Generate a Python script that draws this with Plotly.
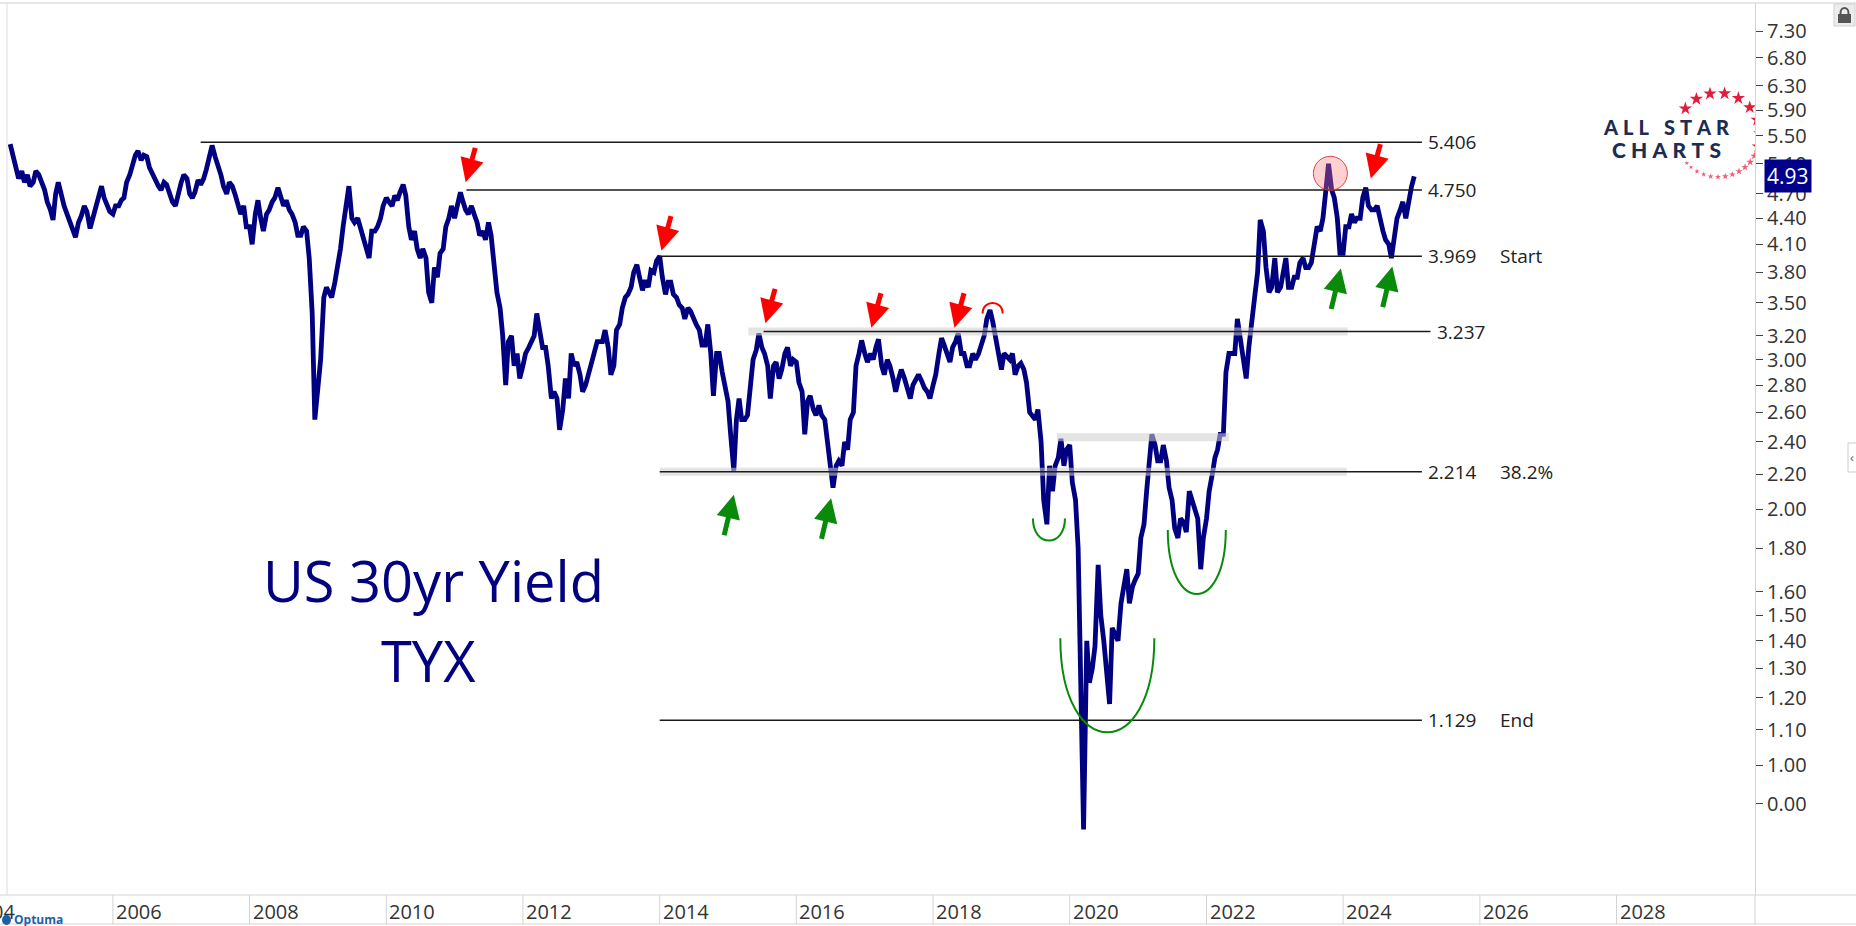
import numpy as np
import pandas as pd
import plotly.graph_objects as go

# ---------------- data: US 30yr yield (TYX), values read twice a month (1st, 15th) ----------------
y2004 = [5.38, 5.20, 5.05, 4.90, 5.00, 4.85, 4.95, 4.80, 4.85, 5.00, 4.95, 4.85]  # from July
y2005 = [4.75, 4.60, 4.50, 4.38, 4.70, 4.85, 4.65, 4.55, 4.45, 4.35, 4.25, 4.18,
         4.35, 4.42, 4.55, 4.48, 4.28, 4.40, 4.55, 4.68, 4.80, 4.65, 4.55, 4.48]
y2006 = [4.45, 4.55, 4.55, 4.62, 4.65, 4.85, 4.95, 5.10, 5.22, 5.28, 5.15, 5.22,
         5.20, 5.05, 4.95, 4.90, 4.80, 4.75, 4.85, 4.82, 4.72, 4.60, 4.55, 4.70]
y2007 = [4.85, 4.95, 4.90, 4.70, 4.65, 4.72, 4.88, 4.82, 4.90, 5.02, 5.25, 5.36,
         5.20, 5.10, 4.95, 4.80, 4.70, 4.85, 4.80, 4.70, 4.55, 4.45, 4.55, 4.30]
y2008 = [4.30, 4.10, 4.45, 4.62, 4.40, 4.25, 4.45, 4.50, 4.60, 4.65, 4.78, 4.65,
         4.55, 4.62, 4.50, 4.45, 4.35, 4.20, 4.20, 4.30, 4.25, 3.95, 3.40, 2.55]
y2009 = [2.85, 3.00, 3.55, 3.65, 3.60, 3.55, 3.70, 3.85, 4.05, 4.30, 4.60, 4.80,
         4.40, 4.35, 4.40, 4.30, 4.15, 4.05, 3.95, 4.25, 4.25, 4.30, 4.40, 4.55]
y2010 = [4.65, 4.60, 4.55, 4.68, 4.62, 4.72, 4.82, 4.68, 4.30, 4.15, 4.25, 4.05,
         3.95, 4.05, 3.95, 3.60, 3.50, 3.85, 3.75, 4.00, 4.05, 4.30, 4.40, 4.55]
y2011 = [4.40, 4.55, 4.72, 4.60, 4.50, 4.45, 4.55, 4.45, 4.35, 4.20, 4.25, 4.15,
         4.35, 4.20, 3.80, 3.60, 3.45, 3.20, 2.80, 3.15, 3.20, 2.95, 3.05, 2.85]
y2012 = [2.95, 3.05, 3.10, 3.15, 3.20, 3.40, 3.25, 3.10, 3.10, 2.95, 2.70, 2.75,
         2.70, 2.48, 2.62, 2.85, 2.70, 3.05, 2.95, 2.98, 2.88, 2.75, 2.80, 2.88]
y2013 = [3.00, 3.05, 3.15, 3.15, 3.15, 3.25, 3.10, 2.88, 2.95, 3.25, 3.30, 3.45,
         3.55, 3.58, 3.65, 3.80, 3.88, 3.75, 3.62, 3.72, 3.65, 3.82, 3.80, 3.92]
y2014 = [3.97, 3.75, 3.58, 3.70, 3.70, 3.58, 3.55, 3.48, 3.45, 3.35, 3.45, 3.42,
         3.35, 3.30, 3.25, 3.12, 3.12, 3.30, 3.05, 2.72, 3.05, 3.05, 2.90, 2.78]
y2015 = [2.68, 2.45, 2.22, 2.55, 2.70, 2.55, 2.55, 2.58, 2.80, 3.00, 3.08, 3.22,
         3.10, 3.05, 2.95, 2.70, 2.95, 2.98, 2.85, 2.92, 3.05, 3.10, 2.95, 3.00]
y2016 = [2.98, 2.82, 2.75, 2.45, 2.68, 2.72, 2.62, 2.58, 2.65, 2.58, 2.55, 2.42,
         2.25, 2.12, 2.25, 2.28, 2.25, 2.40, 2.35, 2.55, 2.60, 2.95, 3.05, 3.16]
y2017 = [3.05, 2.98, 3.05, 3.00, 3.10, 3.17, 2.95, 2.88, 3.00, 2.95, 2.85, 2.75,
         2.85, 2.92, 2.85, 2.78, 2.70, 2.80, 2.85, 2.88, 2.83, 2.78, 2.75, 2.70]
y2018 = [2.80, 2.88, 3.05, 3.18, 3.12, 3.05, 2.98, 3.10, 3.15, 3.22, 3.05, 3.05,
         2.95, 2.95, 3.05, 3.00, 3.05, 3.12, 3.20, 3.35, 3.43, 3.33, 3.20, 3.05]
y2019 = [2.92, 3.05, 3.02, 3.00, 3.05, 2.88, 2.95, 2.97, 2.92, 2.82, 2.60, 2.58,
         2.55, 2.62, 2.40, 2.05, 1.92, 2.25, 2.10, 2.25, 2.30, 2.42, 2.25, 2.35]
y2020 = [2.38, 2.15, 2.05, 1.80, 1.15, 0.84, 1.40, 1.25, 1.30, 1.38, 1.72, 1.50,
         1.40, 1.30, 1.18, 1.45, 1.42, 1.40, 1.55, 1.62, 1.70, 1.55, 1.62, 1.65]
y2021 = [1.68, 1.85, 1.92, 2.10, 2.28, 2.45, 2.38, 2.28, 2.28, 2.38, 2.28, 2.12,
         2.05, 1.90, 1.85, 1.95, 1.93, 1.88, 2.10, 2.05, 2.00, 1.95, 1.70, 1.85]
y2022 = [1.95, 2.10, 2.20, 2.30, 2.35, 2.45, 2.45, 2.90, 3.05, 3.05, 3.05, 3.35,
         3.15, 3.05, 2.85, 3.10, 3.30, 3.55, 3.80, 4.38, 4.25, 3.85, 3.60, 3.65]
y2023 = [3.95, 3.60, 3.65, 3.80, 3.95, 3.65, 3.65, 3.75, 3.75, 3.90, 3.95, 3.85,
         3.85, 3.90, 4.10, 4.30, 4.25, 4.40, 4.75, 5.10, 4.75, 4.65, 4.40, 4.00]
y2024 = [4.00, 4.30, 4.30, 4.45, 4.35, 4.40, 4.40, 4.65, 4.78, 4.55, 4.50, 4.50,
         4.55, 4.40, 4.25, 4.15, 4.10, 3.95, 4.15, 4.40, 4.50, 4.60, 4.40, 4.60]
y2025 = [4.80, 4.93]

yearly = {2004: y2004, 2005: y2005, 2006: y2006, 2007: y2007, 2008: y2008, 2009: y2009,
          2010: y2010, 2011: y2011, 2012: y2012, 2013: y2013, 2014: y2014, 2015: y2015,
          2016: y2016, 2017: y2017, 2018: y2018, 2019: y2019, 2020: y2020, 2021: y2021,
          2022: y2022, 2023: y2023, 2024: y2024, 2025: y2025}

# horizontal levels
level_values = [5.406, 4.750, 3.969, 3.237, 2.214, 1.129]
level_starts = ["2007-04-15", "2011-03-05", "2014-01-01", "2015-07-10", "2014-01-01", "2014-01-01"]
level_ends = ["2025-02-25", "2025-02-25", "2025-02-25", "2025-04-12", "2025-02-25", "2025-02-25"]
level_tags = ["", "", "Start", "", "38.2%", "End"]
tag_date = "2026-04-05"

# light grey highlight bands
band_values = [3.237, 2.214, 2.43]
band_starts = ["2015-04-20", "2014-01-01", "2019-10-25"]
band_ends = ["2024-01-25", "2024-01-20", "2022-05-01"]

# red (down) arrows: tip date, tip value
red_arrow_dates = ["2011-03-01", "2014-01-10", "2015-07-20", "2017-02-05", "2018-04-25", "2024-05-28"]
red_arrow_vals = [4.85, 4.03, 3.31, 3.27, 3.27, 4.90]
# green (up) arrows
green_arrow_dates = ["2015-02-01", "2016-07-05", "2023-12-20", "2024-09-20"]
green_arrow_vals = [2.08, 2.06, 3.84, 3.86]

# y ticks
ytick_vals = [7.3, 6.8, 6.3, 5.9, 5.5, 5.1, 4.7, 4.4, 4.1, 3.8, 3.5, 3.2, 3.0, 2.8, 2.6,
              2.4, 2.2, 2.0, 1.8, 1.6, 1.5, 1.4, 1.3, 1.2, 1.1, 1.0, 0.9]
ytick_text = ["7.30", "6.80", "6.30", "5.90", "5.50", "5.10", "4.70", "4.40", "4.10", "3.80",
              "3.50", "3.20", "3.00", "2.80", "2.60", "2.40", "2.20", "2.00", "1.80", "1.60",
              "1.50", "1.40", "1.30", "1.20", "1.10", "1.00", "0.00"]
xtick_years = list(range(2006, 2030, 2))
last_value = 4.93
peak_circle_date, peak_circle_val = "2023-10-25", 4.97

# ---------------- build series ----------------
dates, values = [], []
for yr, vals in yearly.items():
    m0 = 7 if yr == 2004 else 1
    for i, v in enumerate(vals):
        m = m0 + i // 2
        d = 1 if i % 2 == 0 else 15
        dates.append(f"{yr}-{m:02d}-{d:02d}")
        values.append(v)

NAVY = "#000080"
W, H = 1856, 926
L, R, T, B = 7, 1755, 3, 895  # plot area in px


def px(x):
    return (x - L) / (R - L)


def py(y):
    return (B - y) / (B - T)


fig = go.Figure()

fig.add_trace(go.Scatter(x=dates, y=values, mode="lines",
                         line=dict(color=NAVY, width=4.8), hoverinfo="skip"))

for v, s, e in zip(band_values, band_starts, band_ends):
    fig.add_trace(go.Scatter(x=[s, e], y=[v, v], mode="lines",
                             line=dict(color="rgba(205,205,205,0.55)", width=8), hoverinfo="skip"))

for v, s, e in zip(level_values, level_starts, level_ends):
    fig.add_trace(go.Scatter(x=[s, e], y=[v, v], mode="lines",
                             line=dict(color="#1a1a1a", width=1.6), hoverinfo="skip"))

# pink circle on the 2023 top
fig.add_trace(go.Scatter(x=[peak_circle_date], y=[peak_circle_val], mode="markers",
                         marker=dict(symbol="circle", size=34, color="rgba(255,120,120,0.35)",
                                     line=dict(color="rgba(225,50,50,0.9)", width=1)),
                         hoverinfo="skip"))

annotations = []
for v, e, tag in zip(level_values, level_ends, level_tags):
    annotations.append(dict(x=e, y=np.log10(v), xref="x", yref="y", text=f"{v:.3f}",
                            showarrow=False, xanchor="left", yanchor="middle", xshift=4,
                            font=dict(size=19, color="#222")))
    if tag:
        annotations.append(dict(x=tag_date, y=np.log10(v), xref="x", yref="y", text=tag,
                                showarrow=False, xanchor="left", yanchor="middle",
                                font=dict(size=19, color="#222")))

for d, v in zip(red_arrow_dates, red_arrow_vals):
    annotations.append(dict(x=d, y=np.log10(v), xref="x", yref="y", text="", showarrow=True,
                            arrowhead=2, arrowsize=0.95, arrowwidth=5, arrowcolor="#ff0000",
                            ax=10, ay=-36, standoff=0))
for d, v in zip(green_arrow_dates, green_arrow_vals):
    annotations.append(dict(x=d, y=np.log10(v), xref="x", yref="y", text="", showarrow=True,
                            arrowhead=2, arrowsize=0.95, arrowwidth=5, arrowcolor="#0a8a0a",
                            ax=-10, ay=42, standoff=0))

# x-axis year labels (left aligned after the separators)
for yr in xtick_years:
    annotations.append(dict(x=f"{yr}-01-01", y=py(911), xref="x", yref="paper", text=str(yr),
                            showarrow=False, xanchor="left", yanchor="middle", xshift=1,
                            font=dict(size=20, color="#333")))

# title texts
annotations.append(dict(x=px(433), y=py(580), xref="paper", yref="paper", text="US 30yr Yield",
                        showarrow=False, xanchor="center", yanchor="middle",
                        font=dict(family="Open Sans", size=56, color=NAVY)))
annotations.append(dict(x=px(428), y=py(660), xref="paper", yref="paper", text="TYX",
                        showarrow=False, xanchor="center", yanchor="middle",
                        font=dict(family="Open Sans", size=56, color=NAVY)))

# last value box
annotations.append(dict(x=1, y=np.log10(last_value), xref="paper", yref="y", text="4.93",
                        showarrow=False, xanchor="left", yanchor="middle", xshift=9,
                        bgcolor="#00008b", borderpad=2, font=dict(size=21, color="white")))

# logo text
sp = "\u2005"
annotations.append(dict(x=px(1666), y=py(127), xref="paper", yref="paper",
                        text=sp.join("ALL") + "\u2002" + sp + sp.join("STAR"),
                        showarrow=False, xanchor="center", yanchor="middle",
                        font=dict(family="Lato", size=20, color="#1c2d4f", weight=900)))
annotations.append(dict(x=px(1666), y=py(150), xref="paper", yref="paper",
                        text=sp.join("CHARTS"),
                        showarrow=False, xanchor="center", yanchor="middle",
                        font=dict(family="Lato", size=21, color="#1c2d4f", weight=900)))

# bottom-left bits
annotations.append(dict(x=px(0), y=py(911), xref="paper", yref="paper", text="04",
                        showarrow=False, xanchor="left", yanchor="middle", xshift=-10,
                        font=dict(size=20, color="#333")))
annotations.append(dict(x=px(12), y=py(920), xref="paper", yref="paper", text="<b>Optuma</b>",
                        showarrow=False, xanchor="left", yanchor="middle",
                        font=dict(size=12, color="#1f5fa6")))
annotations.append(dict(x=px(1852), y=py(457), xref="paper", yref="paper", text="‹",
                        showarrow=False, xanchor="center", yanchor="middle",
                        font=dict(size=13, color="#666")))

shapes = []
# frame lines
shapes.append(dict(type="line", xref="paper", yref="paper", x0=px(0), x1=px(W), y0=1, y1=1,
                   line=dict(color="#cfcfcf", width=1)))
shapes.append(dict(type="line", xref="paper", yref="paper", x0=px(0), x1=px(W), y0=0, y1=0,
                   line=dict(color="#d4d4d4", width=1)))
shapes.append(dict(type="line", xref="paper", yref="paper", x0=px(0), x1=px(W), y0=py(924), y1=py(924),
                   line=dict(color="#d4d4d4", width=1)))
shapes.append(dict(type="line", xref="paper", yref="paper", x0=0, x1=0, y0=0, y1=1,
                   line=dict(color="#dcdcdc", width=1)))
for yr in xtick_years:
    shapes.append(dict(type="line", xref="x", yref="paper", x0=f"{yr}-01-01", x1=f"{yr}-01-01",
                       y0=0, y1=py(924), line=dict(color="#d4d4d4", width=1)))
shapes.append(dict(type="line", xref="paper", yref="paper", x0=1, x1=1, y0=0, y1=py(924),
                   line=dict(color="#d4d4d4", width=1)))

# red cap over 2018 top
shapes.append(dict(type="path", xref="x", yref="y", xsizemode="pixel", ysizemode="pixel",
                   xanchor="2018-11-15", yanchor=3.40, path="M -10 0 C -10 14, 10 14, 10 0",
                   line=dict(color="#ff0000", width=2)))
# green cups
cups = [("2019-09-12", 1.95, 16, 22), ("2020-07-20", 1.41, 47, 94), ("2021-11-10", 1.89, 29, 64)]
for d, v, hw, dep in cups:
    k = dep * 4 / 3
    shapes.append(dict(type="path", xref="x", yref="y", xsizemode="pixel", ysizemode="pixel",
                       xanchor=d, yanchor=v,
                       path=f"M {-hw} 0 C {-hw} {-k:.1f}, {hw} {-k:.1f}, {hw} 0",
                       line=dict(color="#0a8a0a", width=2)))

# lock icon and side tab
shapes.append(dict(type="rect", xref="paper", yref="paper", x0=px(1834), x1=px(1855), y0=py(26), y1=py(4),
                   fillcolor="#ececec", line=dict(color="#d0d0d0", width=1)))
shapes.append(dict(type="circle", xref="paper", yref="paper", x0=px(1840.5), x1=px(1848.5), y0=py(18), y1=py(8),
                   line=dict(color="#555", width=2)))
shapes.append(dict(type="rect", xref="paper", yref="paper", x0=px(1838), x1=px(1851), y0=py(23), y1=py(14),
                   fillcolor="#555", line=dict(width=0)))
shapes.append(dict(type="rect", xref="paper", yref="paper", x0=px(1848), x1=px(1860), y0=py(472), y1=py(443),
                   fillcolor="white", line=dict(color="#cccccc", width=1)))
shapes.append(dict(type="circle", xref="paper", yref="paper", x0=px(2), x1=px(11), y0=py(925), y1=py(915),
                   fillcolor="#1f5fa6", line=dict(width=0)))

# logo stars (pixel overlay axes)
cx, cy, r = 1718, 135, 42
big_angles = [141, 121, 101, 81, 61, 41, 21, 2, -16]
small_angles = [-30, -40, -50, -60, -70, -80, -90, -100, -110, -120, -130, -138]
sx = [cx + r * np.cos(np.radians(a)) for a in big_angles]
sy = [cy - r * np.sin(np.radians(a)) for a in big_angles]
fig.add_trace(go.Scatter(x=sx, y=sy, xaxis="x2", yaxis="y2", mode="markers",
                         marker=dict(symbol="star", size=10, color="#e31b3c", line=dict(width=0)),
                         hoverinfo="skip"))
ssx = [cx + r * np.cos(np.radians(a)) for a in small_angles]
ssy = [cy - r * np.sin(np.radians(a)) for a in small_angles]
ssz = [6, 6, 5.5, 5.5, 5, 5, 4.5, 4.5, 4, 4, 3.5, 3.5]
fig.add_trace(go.Scatter(x=ssx, y=ssy, xaxis="x2", yaxis="y2", mode="markers",
                         marker=dict(symbol="star", size=ssz, color="#e31b3c", line=dict(width=0)),
                         hoverinfo="skip"))

fig.update_layout(
    width=W, height=H,
    margin=dict(l=L, r=W - R, t=T, b=H - B),
    paper_bgcolor="white", plot_bgcolor="white",
    showlegend=False,
    font=dict(family="Open Sans", color="#333"),
    annotations=annotations, shapes=shapes,
    xaxis=dict(type="date", range=["2004-06-14", "2030-01-10"],
               showticklabels=False, ticks="", showgrid=False, showline=False, zeroline=False),
    yaxis=dict(type="log", range=[-0.1530, 0.8968], side="right",
               tickvals=ytick_vals, ticktext=ytick_text, ticks="outside", ticklen=7,
               tickcolor="#444", tickwidth=1, showgrid=False, showline=True,
               linecolor="#d4d4d4", linewidth=1, zeroline=False,
               tickfont=dict(size=20, color="#333")),
    xaxis2=dict(overlaying="x", range=[L, R], visible=False, anchor="y2"),
    yaxis2=dict(overlaying="y", range=[B, T], visible=False, anchor="x2", type="linear"),
)

fig.write_html("out.html", config={"displayModeBar": False},
               post_script="document.body.style.margin='0';document.body.style.overflow='hidden';")
